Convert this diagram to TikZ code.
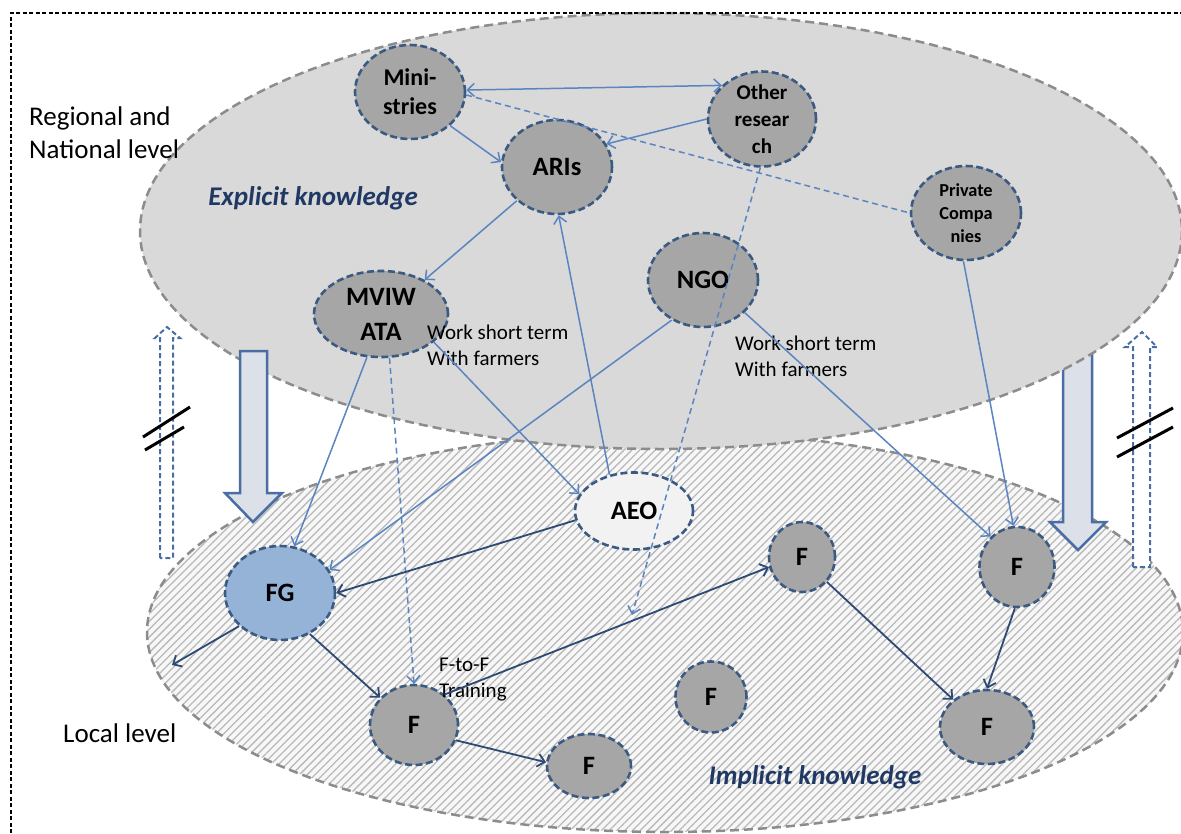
\documentclass[tikz,border=0pt]{standalone}
\usepackage{fontspec}
\setmainfont{Carlito}
\usetikzlibrary{arrows.meta,shapes.geometric,patterns.meta}
\definecolor{actorGray}{HTML}{A6A6A6}
\definecolor{nodeEdge}{HTML}{3B5A82}
\definecolor{upperFill}{HTML}{D9D9D9}
\definecolor{rimGray}{HTML}{8C8C8C}
\definecolor{linkBlue}{HTML}{5A85C0}
\definecolor{linkDark}{HTML}{2C4A74}
\definecolor{knowBlue}{HTML}{1F3864}
\definecolor{fgBlue}{HTML}{95B3D7}
\definecolor{aeoFill}{HTML}{F2F2F2}
\definecolor{blockEdge}{HTML}{4A6EA3}
\definecolor{blockFill}{HTML}{DCE1E9}
\tikzset{
  actor node/.style={ellipse,draw=nodeEdge,fill=actorGray,line width=2.6pt,
    dash pattern=on 7pt off 3.5pt,inner sep=0pt},
  actor text/.style={font=\bfseries\fontsize{26.5}{34}\selectfont,align=center,inner sep=0pt},
  flow arrow/.style={-{Straight Barb[length=7pt,width=13pt]},draw=linkBlue,line width=1.5pt},
  local arrow/.style={-{Straight Barb[length=7pt,width=13pt]},draw=linkDark,line width=1.8pt},
  level text/.style={font=\fontsize{27}{33}\selectfont,inner sep=0pt,align=left},
  know text/.style={font=\bfseries\itshape\fontsize{27}{33}\selectfont,text=knowBlue,inner sep=0pt},
  note text/.style={font=\fontsize{21}{26}\selectfont,inner sep=0pt,align=left},
  block arrow/.style={draw=blockEdge,fill=blockFill,line width=2.5pt,line join=miter},
  ghost arrow/.style={draw=blockEdge,fill=white,line width=2pt,dash pattern=on 5pt off 3pt},
  cut mark/.style={draw=black,line width=3pt}
}

\begin{document}
\begin{tikzpicture}[x=1pt,y=-1pt]
  \useasboundingbox (0,0) rectangle (1181,833);
  % local level
  \draw[draw=rimGray,line width=2.5pt,dash pattern=on 9pt off 5pt,
    preaction={fill=gray!6},pattern={Lines[angle=45,distance=5.5pt,line width=1.3pt]},
    pattern color=gray!55] (665,632) ellipse [x radius=518, y radius=200];
  \draw[ghost arrow] (160,558) -- (160,338) -- (155,338) -- (167,327) -- (180,338)
    -- (173,338) -- (173,558) -- cycle;
  \draw[ghost arrow] (1133,567) -- (1133,347) -- (1125,347) -- (1142,332) -- (1157,347)
    -- (1150,347) -- (1150,567) -- cycle;
  \draw[block arrow] (1063,330) -- (1092,330) -- (1092,522) -- (1106,522) -- (1078,550)
    -- (1050,522) -- (1063,522) -- cycle;
  % regional and national level
  \draw[draw=rimGray,fill=upperFill,line width=2.5pt,dash pattern=on 9pt off 5pt]
    (661,231) ellipse [x radius=521, y radius=218];
  \draw[block arrow] (240,351) -- (267,351) -- (267,493) -- (282,493) -- (253,522)
    -- (225,493) -- (240,493) -- cycle;
  \draw[cut mark] (143,437) -- (190,407);
  \draw[cut mark] (145,450) -- (184,427);
  \draw[cut mark] (1117,438) -- (1173,408);
  \draw[cut mark] (1117,457) -- (1173,427);
  \draw[black,line width=1.2pt,dash pattern=on 4pt off 2.5pt] (11,833) -- (11,13) -- (1181,13);

  \node[level text,anchor=west] (regional) at (29,133) {Regional and\\National level};
  \node[level text,anchor=west] (local) at (63,733) {Local level};
  \node[know text] (explicit) at (313,198) {Explicit knowledge};
  \node[know text] (implicit) at (815,777) {Implicit knowledge};

  % actors
  \node[actor node,minimum width=110pt,minimum height=94pt,
    label={[actor text,font=\bfseries\fontsize{24}{29}\selectfont]center:Mini-\\stries}] (min) at (410,92) {};
  \node[actor node,minimum width=108pt,minimum height=95pt,
    label={[actor text,font=\bfseries\fontsize{21}{27}\selectfont]center:Other\\resear\\ch}] (other) at (762,119) {};
  \node[actor node,minimum width=110pt,minimum height=94pt,
    label={[actor text]center:ARIs}] (aris) at (557,167) {};
  \node[actor node,minimum width=110pt,minimum height=94pt,
    label={[actor text,font=\bfseries\fontsize{18.3}{23}\selectfont]center:Private\\Compa\\nies}] (priv) at (966,213) {};
  \node[actor node,minimum width=110pt,minimum height=94pt,
    label={[actor text]center:NGO}] (ngo) at (703,280) {};
  \node[actor node,minimum width=134pt,minimum height=86pt,
    label={[actor text,font=\bfseries\fontsize{26.5}{35}\selectfont]center:MVIW\\ATA}] (mviw) at (381,314) {};
  \node[actor node,fill=aeoFill,minimum width=118pt,minimum height=77pt,
    label={[actor text]center:AEO}] (aeo) at (634,511) {};
  \node[actor node,fill=fgBlue,minimum width=110pt,minimum height=94pt,
    label={[actor text]center:FG}] (fg) at (280,593) {};
  \node[actor node,minimum width=66pt,minimum height=70pt,
    label={[actor text]center:F}] (fTop) at (802,557) {};
  \node[actor node,minimum width=75pt,minimum height=80pt,
    label={[actor text]center:F}] (fRight) at (1017,567) {};
  \node[actor node,minimum width=88pt,minimum height=80pt,
    label={[actor text]center:F}] (fTrain) at (414,725) {};
  \node[actor node,minimum width=84pt,minimum height=64pt,
    label={[actor text]center:F}] (fLow) at (589,766) {};
  \node[actor node,minimum width=71pt,minimum height=71pt,
    label={[actor text]center:F}] (fMid) at (711,697) {};
  \node[actor node,minimum width=94pt,minimum height=74pt,
    label={[actor text]center:F}] (fCorner) at (987,727) {};

  \node[note text,anchor=west] (shortA) at (427,345) {Work short term\\With farmers};
  \node[note text,anchor=west] (shortB) at (735,356) {Work short term\\With farmers};
  \node[note text,anchor=west] (ftof) at (439,680) {F-to-F\\Training};

  \coordinate (fgOut) at (172,665);
  \coordinate (researchEnd) at (632,615);

  % links between actors
  \draw[flow arrow,{Straight Barb[length=7pt,width=13pt]}-{Straight Barb[length=7pt,width=13pt]}]
    (min.2) -- (other.140);
  \draw[draw=linkBlue,line width=1.5pt,dash pattern=on 6pt off 4pt] (min.-3) -- (priv.west);
  \draw[flow arrow] (other.180) -- (aris.25);
  \draw[flow arrow] (min.-40) -- (aris.175);
  \draw[flow arrow] (aris.220) -- (mviw.38);
  \draw[flow arrow] (aeo.124) -- (aris.-88);
  \draw[flow arrow,dash pattern=on 6pt off 4pt] (other.-92) -- (researchEnd);
  \draw[flow arrow] (priv.-93) -- (fRight.95);
  \draw[flow arrow] (ngo.232) -- (fg.25);
  \draw[flow arrow] (ngo.-38) -- (fRight.131);
  \draw[flow arrow] (mviw.252) -- (fg.73);
  \draw[flow arrow] (mviw.-28) -- (aeo.163);
  \draw[flow arrow,dash pattern=on 6pt off 4pt] (mviw.-79) -- (fTrain.north);
  \draw[local arrow] (aeo.189) -- (fg.east);
  \draw[local arrow] (fg.219) -- (fgOut);
  \draw[local arrow] (fg.-54) -- (fTrain.141);
  \draw[local arrow] (fTrain.45) -- (fTop.197);
  \draw[local arrow] (fTrain.-20) -- (fLow.175);
  \draw[local arrow] (fTop.-45) -- (fCorner.141);
  \draw[local arrow] (fRight.-93) -- (fCorner.north);
\end{tikzpicture}
\end{document}
